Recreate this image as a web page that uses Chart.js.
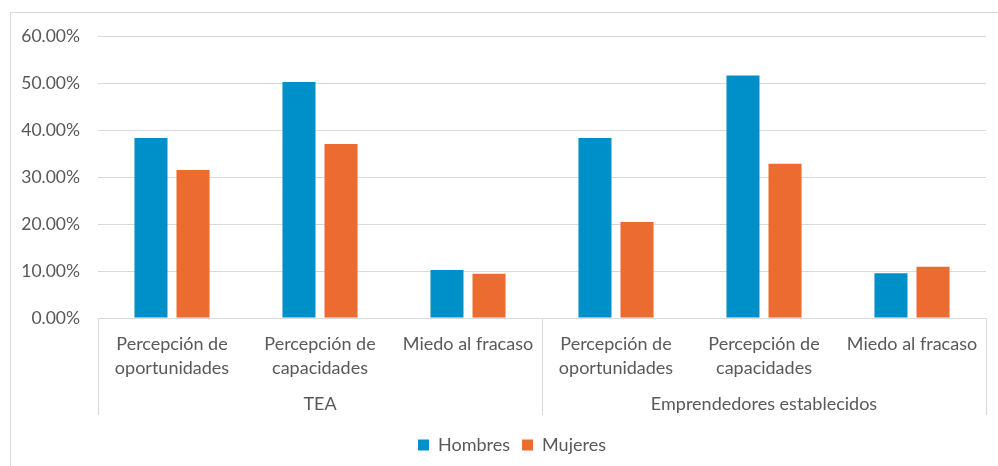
<!DOCTYPE html>
<html>
<head>
<meta charset="utf-8">
<script src="https://cdn.jsdelivr.net/npm/chart.js@4"></script>
<style>
  html, body { margin: 0; padding: 0; background: #fff; }
  #wrap { width: 998px; height: 466px; }
</style>
</head>
<body>
<div id="wrap"><canvas id="gemChart" width="998" height="466"></canvas></div>
<script>
const categories = [
  ["Percepción de", "oportunidades"],
  ["Percepción de", "capacidades"],
  "Miedo al fracaso",
  ["Percepción de", "oportunidades"],
  ["Percepción de", "capacidades"],
  "Miedo al fracaso"
];
const groups = ["TEA", "Emprendedores establecidos"];
const hombres = [0.383, 0.502, 0.102, 0.383, 0.516, 0.095];
const mujeres = [0.315, 0.370, 0.094, 0.204, 0.328, 0.109];

const gridColor = "#d9d9d9";
const textColor = "#595959";
const fontFamily = "Lato, 'Liberation Sans', sans-serif";

const groupAxis = {
  id: "groupAxis",
  afterLayout(chart) {
    // legend sits a bit right of centre in the original
    chart.legend.left += 14;
    chart.legend.right += 14;
  },
  beforeDraw(chart) {
    const { ctx, width, height } = chart;
    ctx.save();
    ctx.fillStyle = "#fff";
    ctx.fillRect(0, 0, width, height);
    ctx.strokeStyle = gridColor;
    ctx.lineWidth = 1;
    ctx.strokeRect(10.5, 12.5, width, height);
    ctx.restore();
  },
  afterDraw(chart) {
    const { ctx, chartArea } = chart;
    const x = chart.scales.x;
    const bottom = chartArea.bottom;
    const lineEnd = 415;
    const mid = (x.getPixelForValue(2) + x.getPixelForValue(3)) / 2;
    ctx.save();
    ctx.strokeStyle = gridColor;
    ctx.lineWidth = 1;
    [x.left, mid, x.right].forEach((px) => {
      const p = Math.round(px) + 0.5;
      ctx.beginPath();
      ctx.moveTo(p, bottom);
      ctx.lineTo(p, lineEnd);
      ctx.stroke();
    });
    ctx.fillStyle = textColor;
    ctx.font = "18px " + fontFamily;
    ctx.textAlign = "center";
    ctx.textBaseline = "middle";
    ctx.fillText(groups[0], (x.left + mid) / 2, 404);
    ctx.fillText(groups[1], (mid + x.right) / 2, 404);
    ctx.restore();
  }
};

new Chart(document.getElementById("gemChart"), {
  type: "bar",
  data: {
    labels: categories,
    datasets: [
      {
        label: "Hombres",
        data: hombres,
        backgroundColor: "#0090c9",
        categoryPercentage: 0.568,
        barPercentage: 0.786
      },
      {
        label: "Mujeres",
        data: mujeres,
        backgroundColor: "#ec6b30",
        categoryPercentage: 0.568,
        barPercentage: 0.786
      }
    ]
  },
  options: {
    responsive: false,
    animation: false,
    layout: { padding: { left: 10, right: 12, top: 36, bottom: 2 } },
    scales: {
      y: {
        min: 0,
        max: 0.6,
        ticks: {
          stepSize: 0.1,
          padding: 18,
          color: textColor,
          font: { family: fontFamily, size: 17.5 },
          callback: (v) => (v * 100).toFixed(2) + "%"
        },
        grid: { color: gridColor, drawTicks: false },
        border: { display: false },
        afterFit: (s) => { s.width = 88; }
      },
      x: {
        ticks: {
          color: textColor,
          padding: 6,
          maxRotation: 0,
          autoSkip: false,
          font: { family: fontFamily, size: 18, lineHeight: 1.33 }
        },
        grid: { display: false },
        border: { color: gridColor },
        afterFit: (s) => { s.height = 106; }
      }
    },
    plugins: {
      tooltip: { enabled: false },
      legend: {
        position: "bottom",
        labels: {
          color: textColor,
          boxWidth: 11,
          boxHeight: 11,
          padding: 12,
          font: { family: fontFamily, size: 18 }
        }
      }
    }
  },
  plugins: [groupAxis]
});
</script>
</body>
</html>
